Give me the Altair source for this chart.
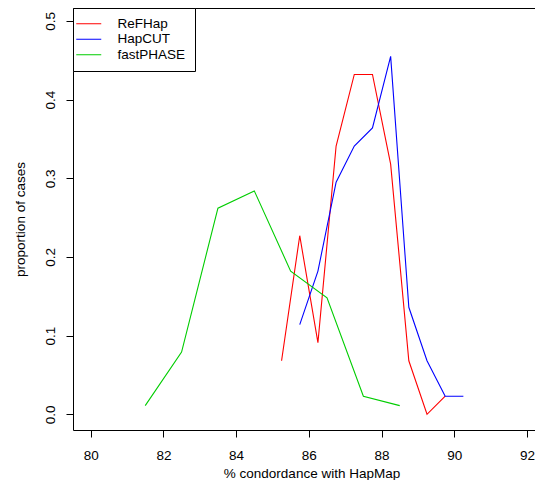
import altair as alt
import pandas as pd

# ---- data ----
series_names = ["ReFHap", "HapCUT", "fastPHASE"]
series_colors = ["#FF0000", "#0000FF", "#00CD00"]

refhap_x = [85.25, 85.75, 86.25, 86.75, 87.25, 87.75, 88.25, 88.75, 89.25, 89.75]
refhap_y = [0.068, 0.227, 0.091, 0.341, 0.432, 0.432, 0.318, 0.068, 0.0, 0.023]

hapcut_x = [85.75, 86.25, 86.75, 87.25, 87.75, 88.25, 88.75, 89.25, 89.75, 90.25]
hapcut_y = [0.114, 0.182, 0.295, 0.341, 0.364, 0.455, 0.136, 0.068, 0.023, 0.023]

fastphase_x = [81.5, 82.5, 83.5, 84.5, 85.5, 86.5, 87.5, 88.5]
fastphase_y = [0.011, 0.079, 0.262, 0.284, 0.182, 0.148, 0.023, 0.011]

x_ticks = [80, 82, 84, 86, 88, 90, 92]
y_ticks = [0.0, 0.1, 0.2, 0.3, 0.4, 0.5]

x_title = "% condordance with HapMap"
y_title = "proportion of cases"

rows = []
for name, xs, ys in [("ReFHap", refhap_x, refhap_y),
                     ("HapCUT", hapcut_x, hapcut_y),
                     ("fastPHASE", fastphase_x, fastphase_y)]:
    for xv, yv in zip(xs, ys):
        rows.append({"series": name, "x": xv, "y": yv})
df = pd.DataFrame(rows)

FONT = "Liberation Sans"
FS = 13.5

chart = alt.Chart(df).mark_line(strokeWidth=1.1).encode(
    x=alt.X(
        "x:Q",
        scale=alt.Scale(domain=[79.514, 92.55], nice=False, zero=False),
        axis=alt.Axis(
            values=x_ticks, format="d", title=x_title,
            titleX=238.5, titleY=47, titleAlign="center", titleBaseline="alphabetic",
            labelBaseline="alphabetic", labelAlign="center", labelPadding=22.5,
            labelFlush=False, tickSize=7,
        ),
    ),
    y=alt.Y(
        "y:Q",
        scale=alt.Scale(domain=[-0.02, 0.5165], nice=False, zero=False),
        axis=alt.Axis(
            values=y_ticks, format=".1f", title=y_title,
            titleX=-49, titleY=211, titleAngle=270, titleAlign="center",
            titleBaseline="alphabetic",
            labelAngle=270, labelAlign="center", labelBaseline="alphabetic",
            labelPadding=11.5, labelFlush=False, tickSize=7,
        ),
    ),
    color=alt.Color(
        "series:N",
        sort=series_names,
        scale=alt.Scale(domain=series_names, range=series_colors),
        legend=alt.Legend(
            title=None, orient="none", legendX=0, legendY=0,
            symbolType="M-3.3,0h0.001M-2.5,0H2.5", symbolSize=100, symbolStrokeWidth=1.1,
            labelOffset=22, padding=9, rowPadding=0.5,
            strokeColor="black", fillColor="white", cornerRadius=0,
            labelFont=FONT, labelFontSize=FS, labelColor="black",
        ),
    ),
).properties(
    width=474,
    height=422,
    autosize=alt.AutoSizeParams(type="none"),
    padding={"left": 65, "top": 0, "right": -12, "bottom": 50},
    background="white",
).configure_view(
    stroke="black", strokeWidth=1
).configure_axis(
    grid=False, domain=False, tickColor="black", tickWidth=1,
    labelFont=FONT, labelFontSize=FS, labelColor="black",
    titleFont=FONT, titleFontSize=FS, titleColor="black", titleFontWeight="normal",
)

chart.save("out.html", embed_options={"renderer": "svg", "actions": False})
